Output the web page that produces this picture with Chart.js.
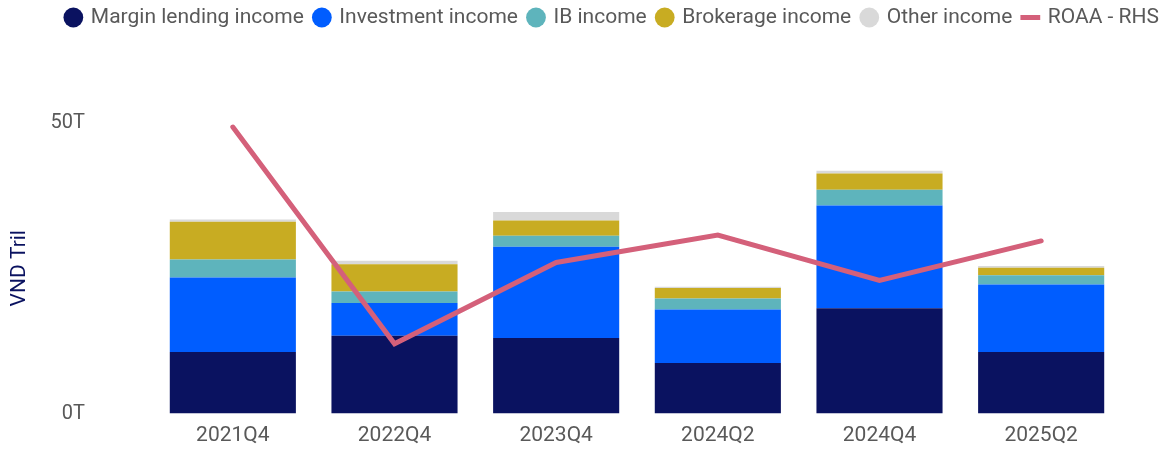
<!DOCTYPE html>
<html>
<head>
<meta charset="utf-8">
<script src="https://cdn.jsdelivr.net/npm/chart.js@4.4.1/dist/chart.umd.min.js"></script>
<style>
  html, body { margin: 0; padding: 0; background: #fff; }
  #wrap { width: 1170px; height: 450px; position: relative; }
</style>
</head>
<body>
<div id="wrap"><canvas id="chart"></canvas></div>
<script>
// quarters on the x axis
const periods = ['2021Q4', '2022Q4', '2023Q4', '2024Q2', '2024Q4', '2025Q2'];

// income breakdown, VND trillion
const marginLending = [10.6, 13.4, 13.0, 8.7, 18.1, 10.6];
const investment    = [12.8, 5.6, 15.7, 9.2, 17.7, 11.6];
const ibIncome      = [3.1, 2.0, 1.9, 1.9, 2.7, 1.6];
const brokerage     = [6.5, 4.7, 2.6, 1.8, 2.8, 1.3];
const otherIncome   = [0.4, 0.6, 1.5, 0.2, 0.5, 0.3];

// ROAA, % (right hand side, axis hidden)
const roaa = [4.93, 1.20, 2.60, 3.07, 2.29, 2.97];

const leftTicks = [0, 50];

const gray = '#595959';
const fontFamily = 'Roboto, "Noto Sans", sans-serif';

function barSet(label, data, color) {
    return {
        type: 'bar',
        label: label,
        data: data,
        backgroundColor: color,
        borderWidth: 0,
        stack: 'income',
        yAxisID: 'y',
        order: 1,
        categoryPercentage: 1.0,
        barPercentage: 0.78
    };
}

// the tick padding is only there to push labels left, don't let it pad the chart area
function noVerticalPadding(scale) {
    scale.paddingTop = 0;
    scale.paddingBottom = 0;
}

const ctx = document.getElementById('chart').getContext('2d');
new Chart(ctx, {
    data: {
        labels: periods,
        datasets: [
            barSet('Margin lending income', marginLending, '#0A1260'),
            barSet('Investment income', investment, '#005DFF'),
            barSet('IB income', ibIncome, '#5EB4BC'),
            barSet('Brokerage income', brokerage, '#C8AC22'),
            barSet('Other income', otherIncome, '#D9D9D9'),
            {
                type: 'line',
                label: 'ROAA - RHS',
                data: roaa,
                borderColor: '#D4607A',
                backgroundColor: '#D4607A',
                borderWidth: 5,
                borderCapStyle: 'round',
                pointRadius: 0,
                pointHoverRadius: 0,
                pointStyle: 'line',
                tension: 0,
                yAxisID: 'y1',
                order: 0
            }
        ]
    },
    options: {
        responsive: true,
        maintainAspectRatio: false,
        animation: false,
        layout: { padding: { top: -4, right: 0, bottom: 0, left: 0 } },
        plugins: {
            legend: {
                position: 'top',
                align: 'end',
                labels: {
                    usePointStyle: true,
                    boxWidth: 14,
                    boxHeight: 14,
                    padding: 11,
                    color: gray,
                    font: { family: fontFamily, size: 21 },
                    sort: (a, b) => a.datasetIndex - b.datasetIndex
                }
            },
            // empty spacer between legend and plot
            subtitle: {
                display: true,
                text: '',
                weight: 500,
                font: { size: 10 },
                padding: { top: 73, bottom: 0 }
            },
            tooltip: { enabled: false }
        },
        scales: {
            x: {
                afterFit: (scale) => { scale.height = 36.5; },
                grid: { display: false, drawTicks: false },
                border: { display: false },
                ticks: {
                    color: gray,
                    padding: 10,
                    maxRotation: 0,
                    font: { family: fontFamily, size: 21 }
                }
            },
            y: {
                stacked: true,
                min: 0,
                max: 50,
                afterFit: (scale) => { scale.width = 152; noVerticalPadding(scale); },
                afterBuildTicks: (scale) => {
                    scale.ticks = leftTicks.map(v => ({ value: v }));
                },
                grid: { display: false, drawTicks: false },
                border: { display: false },
                ticks: {
                    color: gray,
                    padding: 67,
                    font: { family: fontFamily, size: 20 },
                    callback: (v) => v + 'T'
                },
                title: {
                    display: true,
                    text: 'VND Tril',
                    color: '#0A1260',
                    padding: { top: 7.5, bottom: 4 },
                    font: { family: fontFamily, size: 21 }
                }
            },
            y1: {
                position: 'right',
                min: 0,
                max: 5,
                afterFit: (scale) => { scale.width = 48; noVerticalPadding(scale); },
                grid: { display: false, drawTicks: false },
                border: { display: false },
                ticks: { display: false }
            }
        }
    }
});
</script>
</body>
</html>
